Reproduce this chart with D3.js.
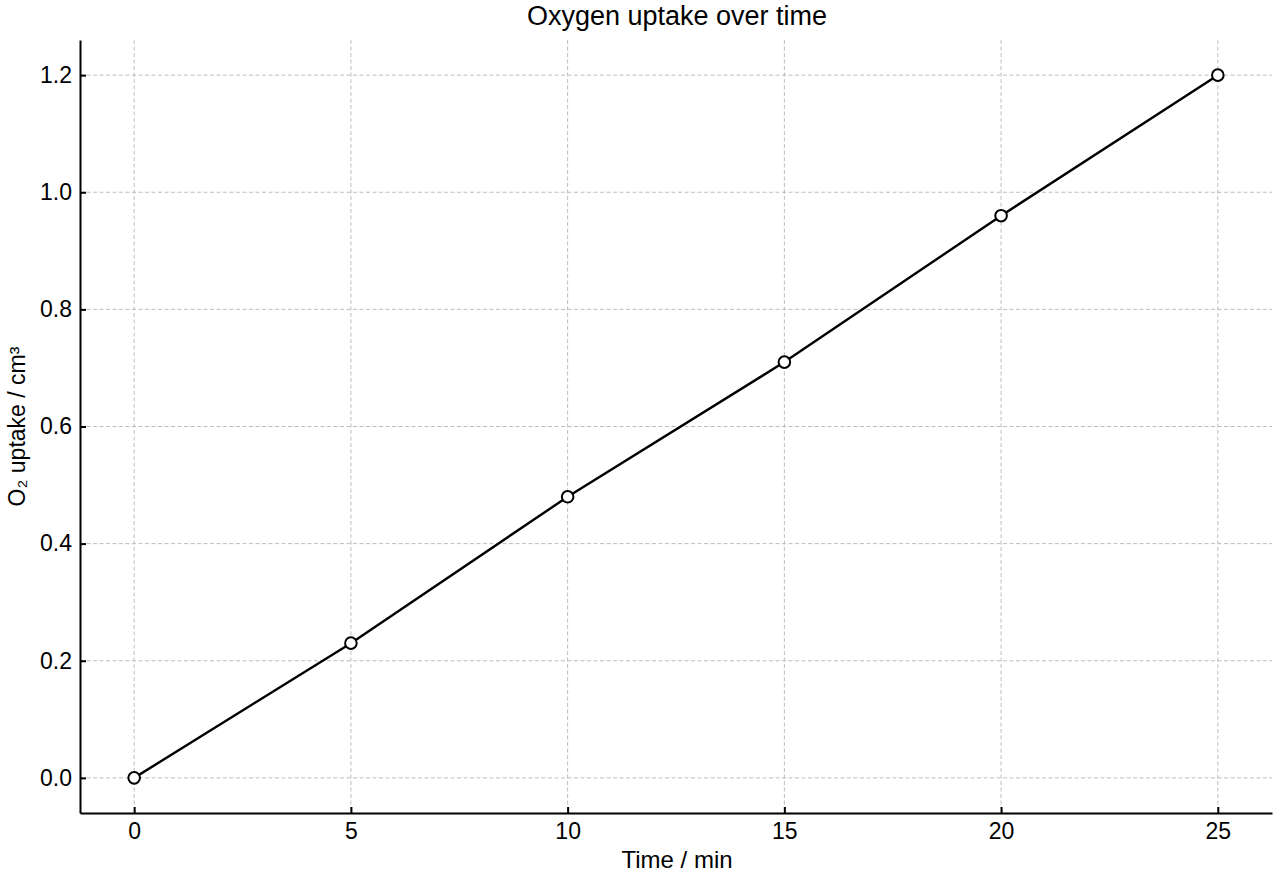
<!doctype html>
<html>
<head>
  <meta charset="utf-8">
  <title>Oxygen uptake over time</title>
  <script src="https://cdnjs.cloudflare.com/ajax/libs/d3/7.8.5/d3.min.js"></script>
  <style>
    html, body { margin: 0; padding: 0; background: #fff; }
    svg text { font-family: "Liberation Sans", Arial, sans-serif; fill: #000; }
  </style>
</head>
<body>
  <div id="chart"></div>
  <script>
    // data
    const times = [0, 5, 10, 15, 20, 25];
    const uptake = [0.0, 0.23, 0.48, 0.71, 0.96, 1.20];
    const xTicks = [0, 5, 10, 15, 20, 25];
    const yTicks = [0.0, 0.2, 0.4, 0.6, 0.8, 1.0, 1.2];

    const W = 1280, H = 880;
    const mLeft = 80, mRight = 1272, mTop = 40, mBottom = 813;

    const svg = d3.select('#chart').append('svg')
      .attr('width', W).attr('height', H);

    const x = d3.scaleLinear().domain([-1.25, 26.25]).range([mLeft, mRight]);
    const y = d3.scaleLinear().domain([-0.06, 1.26]).range([mBottom, mTop]);

    // grid
    const grid = svg.append('g')
      .attr('stroke', '#bdbdbd').attr('stroke-width', 1).attr('stroke-dasharray', '4,2.5');
    grid.selectAll('.gx').data(xTicks).join('line')
      .attr('x1', d => x(d)).attr('x2', d => x(d))
      .attr('y1', mTop).attr('y2', mBottom);
    grid.selectAll('.gy').data(yTicks).join('line')
      .attr('y1', d => y(d)).attr('y2', d => y(d))
      .attr('x1', mLeft).attr('x2', mRight);

    // axes, ticks pointing inward
    const xAxis = svg.append('g')
      .attr('transform', `translate(0,${mBottom})`)
      .call(d3.axisBottom(x).tickValues(xTicks).tickFormat(d3.format('d')).tickSizeInner(-6).tickSizeOuter(0).tickPadding(10));
    const yAxis = svg.append('g')
      .attr('transform', `translate(${mLeft},0)`)
      .call(d3.axisLeft(y).tickValues(yTicks).tickFormat(d3.format('.1f')).tickSizeInner(-6).tickSizeOuter(0).tickPadding(8));

    [xAxis, yAxis].forEach(a => {
      a.attr('font-size', null);
      a.select('.domain').attr('stroke', '#000').attr('stroke-width', 2);
      a.selectAll('.tick line').attr('stroke', '#000').attr('stroke-width', 2);
      a.selectAll('.tick text').style('font-size', '23px').attr('fill', '#000');
    });

    // line + markers
    const pts = times.map((t, i) => [t, uptake[i]]);
    svg.append('path')
      .datum(pts)
      .attr('fill', 'none').attr('stroke', '#000').attr('stroke-width', 2.4)
      .attr('d', d3.line().x(d => x(d[0])).y(d => y(d[1])));
    svg.selectAll('.pt').data(pts).join('circle')
      .attr('cx', d => x(d[0])).attr('cy', d => y(d[1])).attr('r', 5.8)
      .attr('fill', '#fff').attr('stroke', '#000').attr('stroke-width', 2);

    // labels
    svg.append('text').attr('x', (mLeft + mRight) / 2 + 1).attr('y', 25)
      .attr('text-anchor', 'middle').style('font-size', '27px')
      .text('Oxygen uptake over time');
    svg.append('text').attr('x', (mLeft + mRight) / 2 + 1).attr('y', 868)
      .attr('text-anchor', 'middle').style('font-size', '24px')
      .text('Time / min');
    svg.append('text')
      .attr('transform', `translate(25,${(mTop + mBottom) / 2}) rotate(-90)`)
      .attr('text-anchor', 'middle').style('font-size', '23px')
      .text('O\u2082 uptake / cm\u00b3');
  </script>
</body>
</html>
